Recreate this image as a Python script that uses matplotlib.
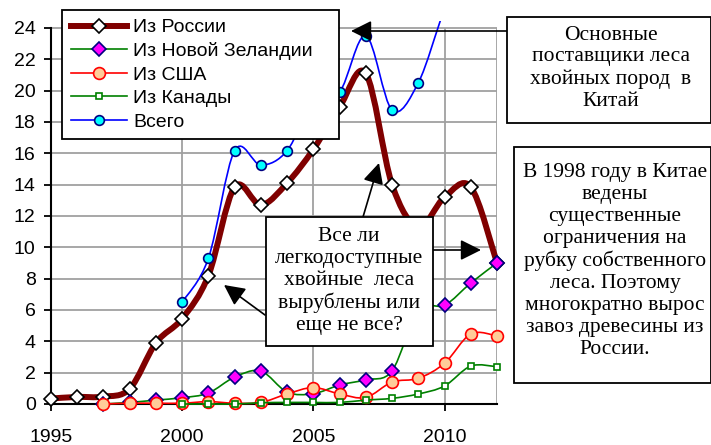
import matplotlib
matplotlib.use("Agg")
import matplotlib.pyplot as plt
from matplotlib.path import Path
from matplotlib.patches import PathPatch, Rectangle
from matplotlib.lines import Line2D
import numpy as np

years = list(range(1995, 2013))

russia = [0.35, 0.45, 0.47, 0.97, 3.9, 5.45, 8.2, 13.85, 12.7, 14.1,
          16.25, 18.95, 21.1, 14.0, 11.3, 13.2, 13.85, 9.0]
new_zealand = [None, None, 0.0, 0.1, 0.25, 0.4, 0.7, 1.72, 2.1, 0.76,
               0.66, 1.21, 1.55, 2.12, 6.0, 6.3, 7.72, 9.0]
usa = [None, None, 0.0, 0.05, 0.05, 0.05, 0.15, 0.05, 0.1, 0.64,
       1.05, 0.64, 0.42, 1.4, 1.64, 2.6, 4.47, 4.34]
canada = [None, None, None, None, None, 0.0, 0.0, 0.0, 0.08, 0.1,
          0.1, 0.1, 0.25, 0.36, 0.64, 1.15, 2.42, 2.38]
total = [None, None, None, None, None, 6.5, 9.3, 16.17, 15.25, 16.17,
         19.3, 19.9, 23.5, 18.76, 20.5, 25.2, 29.0, 27.0]

labels = ["Из России", "Из Новой Зеландии", "Из США", "Из Канады", "Всего"]
xtick_years = [1995, 2000, 2005, 2010]
ytick_vals = list(range(0, 25, 2))

W, H = 711, 445


def smooth_path(xs, ys):
    # Excel-like smoothed line: cubic Bezier through points (Catmull-Rom controls)
    pts = [(x, y) for x, y in zip(xs, ys) if y is not None]
    p = np.array(pts, dtype=float)
    verts = [tuple(p[0])]
    codes = [Path.MOVETO]
    n = len(p)
    for i in range(n - 1):
        p0 = p[i - 1] if i > 0 else p[i]
        p1, p2 = p[i], p[i + 1]
        p3 = p[i + 2] if i + 2 < n else p[i + 1]
        c1 = p1 + (p2 - p0) / 6.0
        c2 = p2 - (p3 - p1) / 6.0
        verts += [tuple(c1), tuple(c2), tuple(p2)]
        codes += [Path.CURVE4] * 3
    return Path(verts, codes), p


def fig_xy(x, y):
    # pixel position measured from top-left -> figure fraction
    return x / W, 1 - y / H


fig = plt.figure(figsize=(W / 100, H / 100), dpi=100)
ax = fig.add_axes([51 / W, 41 / H, 446 / W, 383.1 / H])
ax.set_xlim(1995, 2012)
ax.set_ylim(0, 24.45)

grid_c = "#a0a0a0"
ax.hlines(ytick_vals[1:], 1995, 2012, color=grid_c, lw=1.3, zorder=1)
ax.vlines(xtick_years[1:] + [2012], 0, 24, color=grid_c, lw=1.3, zorder=1)

for s in ["top", "right"]:
    ax.spines[s].set_visible(False)
ax.spines["left"].set_bounds(0, 24)
ax.spines["left"].set_linewidth(1.5)
ax.spines["bottom"].set_linewidth(1.5)
ax.spines["left"].set_zorder(2)
ax.spines["bottom"].set_zorder(2)

ax.set_xticks(xtick_years)
ax.set_yticks(ytick_vals)
ax.tick_params(axis="both", direction="out", length=5, width=1.3,
               labelsize=14, colors="black")
ax.tick_params(axis="x", pad=13)
ax.tick_params(axis="y", pad=6)
for lab in ax.get_xticklabels() + ax.get_yticklabels():
    lab.set_fontfamily("Liberation Sans")

styles = [
    dict(color="#800000", lw=4.3, marker="D", mfc="white", mec="black", ms=7.5, mew=1.2),
    dict(color="#008000", lw=1.2, marker="D", mfc="#ff00ff", mec="#000080", ms=7.5, mew=1.2),
    dict(color="#ff0000", lw=1.2, marker="o", mfc="#ffcc99", mec="#ff0000", ms=8.5, mew=1.2),
    dict(color="#008000", lw=1.2, marker="s", mfc="white", mec="#008000", ms=4.5, mew=1.2),
    dict(color="#0000ff", lw=1.2, marker="o", mfc="#00ffff", mec="#000080", ms=7, mew=1.2),
]
series = [russia, new_zealand, usa, canada, total]

handles = []
for k, (vals, st) in enumerate(zip(series, styles)):
    path, pts = smooth_path(years, vals)
    clip = vals is total
    patch = PathPatch(path, fill=False, edgecolor=st["color"], lw=st["lw"],
                      zorder=3 + k, clip_on=clip, capstyle="round", joinstyle="round")
    ax.add_patch(patch)
    ax.plot(pts[:, 0], pts[:, 1], ls="none", marker=st["marker"], mfc=st["mfc"],
            mec=st["mec"], ms=st["ms"], mew=st["mew"], zorder=3 + k + 0.5,
            clip_on=clip)
    handles.append(Line2D([], [], color=st["color"], lw=st["lw"], marker=st["marker"],
                          mfc=st["mfc"], mec=st["mec"], ms=st["ms"], mew=st["mew"]))

lx0, ly0 = fig_xy(62, 10)
lx1, ly1 = fig_xy(339, 135)
leg = fig.legend(handles, labels, loc="upper left",
                 bbox_to_anchor=(lx0, ly1, lx1 - lx0, ly0 - ly1), mode="expand",
                 prop={"family": "Liberation Sans", "size": 14},
                 frameon=True, fancybox=False, shadow=False, framealpha=1,
                 edgecolor="black", handlelength=2.9, handletextpad=0.3,
                 labelspacing=0.3, borderpad=0.45, borderaxespad=0)
leg.get_frame().set_linewidth(1.3)
leg.set_zorder(20)

serif = {"family": "Liberation Serif", "size": 15.5}
boxes = [
    ((507, 17, 711, 123), (611, 68),
     "Основные\nпоставщики леса\nхвойных пород  в\nКитай"),
    ((514, 147, 711, 383), (615, 261),
     "В 1998 году в Китае\nведены\nсущественные\nограничения на\nрубку собственного\nлеса. Поэтому\nмногократно вырос\nзавоз древесины из\nРоссии."),
    ((266, 217, 433, 346), (349, 281),
     "Все ли\nлегкодоступные\nхвойные  леса\nвырублены или\nеще не все?"),
]
for (x0, y0, x1, y1), (tx, ty), txt in boxes:
    fx0, fy1 = fig_xy(x0, y1)
    fx1, fy0 = fig_xy(x1, y0)
    fig.add_artist(Rectangle((fx0, fy1), fx1 - fx0, fy0 - fy1, transform=fig.transFigure,
                             facecolor="white", edgecolor="black", lw=1.3, zorder=30))
    fx, fy = fig_xy(tx, ty)
    fig.text(fx, fy, txt, ha="center", va="center", multialignment="center",
             fontdict=serif, linespacing=1.2, zorder=31)

arrows = [
    ((507, 31), (351, 31)),
    ((363, 217), (379, 163)),
    ((433, 250), (481, 250)),
    ((265, 315), (224, 285)),
]
for tail, tip in arrows:
    ax.annotate("", xy=fig_xy(*tip), xytext=fig_xy(*tail),
                xycoords="figure fraction", textcoords="figure fraction",
                arrowprops=dict(arrowstyle="-|>,head_length=0.7,head_width=0.35",
                                color="black", lw=1.2, mutation_scale=18,
                                shrinkA=0, shrinkB=0),
                annotation_clip=False, zorder=29)

fig.savefig("out.png", dpi=100)
